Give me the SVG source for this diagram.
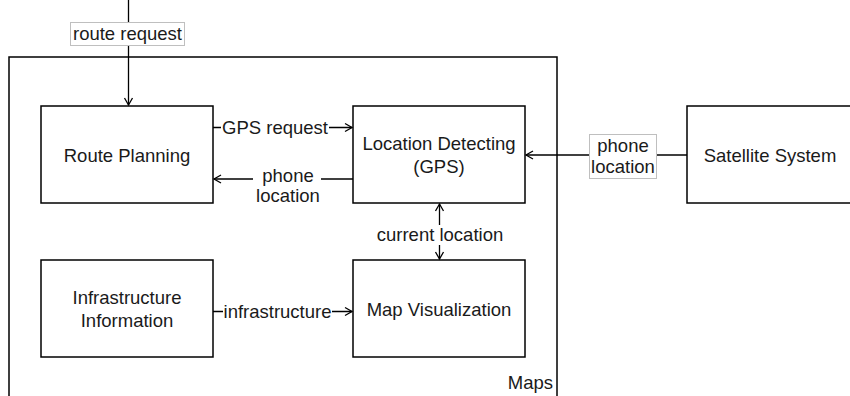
<svg xmlns="http://www.w3.org/2000/svg" width="850" height="396" viewBox="0 0 850 396">
  <style>
    .box { fill: #ffffff; stroke: #000000; stroke-width: 1.5; }
    .frame { fill: #ffffff; stroke: #000000; stroke-width: 1.5; }
    .edge { fill: none; stroke: #000000; stroke-width: 1.3; }
    .txt { font-family: "Liberation Sans", Arial, sans-serif; font-size: 18.5px; fill: #1a1a1a; text-anchor: middle; }
    .lblbg { fill: #ffffff; stroke: none; }
    .lblbox { fill: #ffffff; stroke: #bfbfbf; stroke-width: 1; }
  </style>
  <defs>
    <marker id="arrow" markerUnits="userSpaceOnUse" markerWidth="12" markerHeight="12" refX="8" refY="5" orient="auto" viewBox="0 0 12 10">
      <path d="M1,1 L8,5 L1,9" fill="none" stroke="#000000" stroke-width="1.3"/>
    </marker>
  </defs>

  <rect width="850" height="396" fill="#ffffff"/>

  <!-- Maps container -->
  <g id="maps">
    <rect class="frame" x="9" y="57" width="548" height="360"/>
    <text class="txt" x="553" y="389" style="text-anchor:end">Maps</text>
  </g>

  <!-- Nodes -->
  <g id="route-planning">
    <rect class="box" x="41" y="106" width="172" height="97"/>
    <text class="txt" x="127" y="162">Route Planning</text>
  </g>
  <g id="location-detecting">
    <rect class="box" x="353" y="106" width="172" height="97"/>
    <text class="txt" x="439" y="150">Location Detecting</text>
    <text class="txt" x="439" y="173">(GPS)</text>
  </g>
  <g id="infrastructure-information">
    <rect class="box" x="41" y="260" width="172" height="97"/>
    <text class="txt" x="127" y="304">Infrastructure</text>
    <text class="txt" x="127" y="327">Information</text>
  </g>
  <g id="map-visualization">
    <rect class="box" x="353" y="260" width="172" height="97"/>
    <text class="txt" x="439" y="316">Map Visualization</text>
  </g>
  <g id="satellite-system">
    <rect class="box" x="687" y="106" width="180" height="97"/>
    <text class="txt" x="770" y="162">Satellite System</text>
  </g>

  <!-- Connectors -->
  <g id="connectors">
    <!-- route request -->
    <path class="edge" d="M128.5,0 L128.5,105" marker-end="url(#arrow)"/>
    <rect class="lblbox" x="70.5" y="22.5" width="114" height="23"/>
    <text class="txt" x="127.5" y="40">route request</text>

    <!-- GPS request -->
    <path class="edge" d="M213,127.5 L352,127.5" marker-end="url(#arrow)"/>
    <rect class="lblbg" x="221" y="117" width="108" height="22"/>
    <text class="txt" x="275" y="134">GPS request</text>

    <!-- phone location (GPS to route planning) -->
    <path class="edge" d="M353,179 L214,179" marker-end="url(#arrow)"/>
    <rect class="lblbg" x="253" y="162" width="68" height="42"/>
    <text class="txt" x="288" y="182">phone</text>
    <text class="txt" x="288" y="202">location</text>

    <!-- phone location (satellite to GPS) -->
    <path class="edge" d="M687,155 L526,155" marker-end="url(#arrow)"/>
    <rect class="lblbox" x="589.5" y="134.5" width="67" height="44"/>
    <text class="txt" x="623" y="152">phone</text>
    <text class="txt" x="623" y="173">location</text>

    <!-- current location (both ways) -->
    <path class="edge" d="M439.5,230 L439.5,204" marker-end="url(#arrow)"/>
    <path class="edge" d="M439.5,240 L439.5,259" marker-end="url(#arrow)"/>
    <rect class="lblbg" x="372" y="225" width="136" height="20"/>
    <text class="txt" x="440" y="241">current location</text>

    <!-- infrastructure -->
    <path class="edge" d="M213,311.5 L352,311.5" marker-end="url(#arrow)"/>
    <rect class="lblbg" x="223" y="301" width="109" height="22"/>
    <text class="txt" x="277.5" y="318">infrastructure</text>
  </g>
</svg>
